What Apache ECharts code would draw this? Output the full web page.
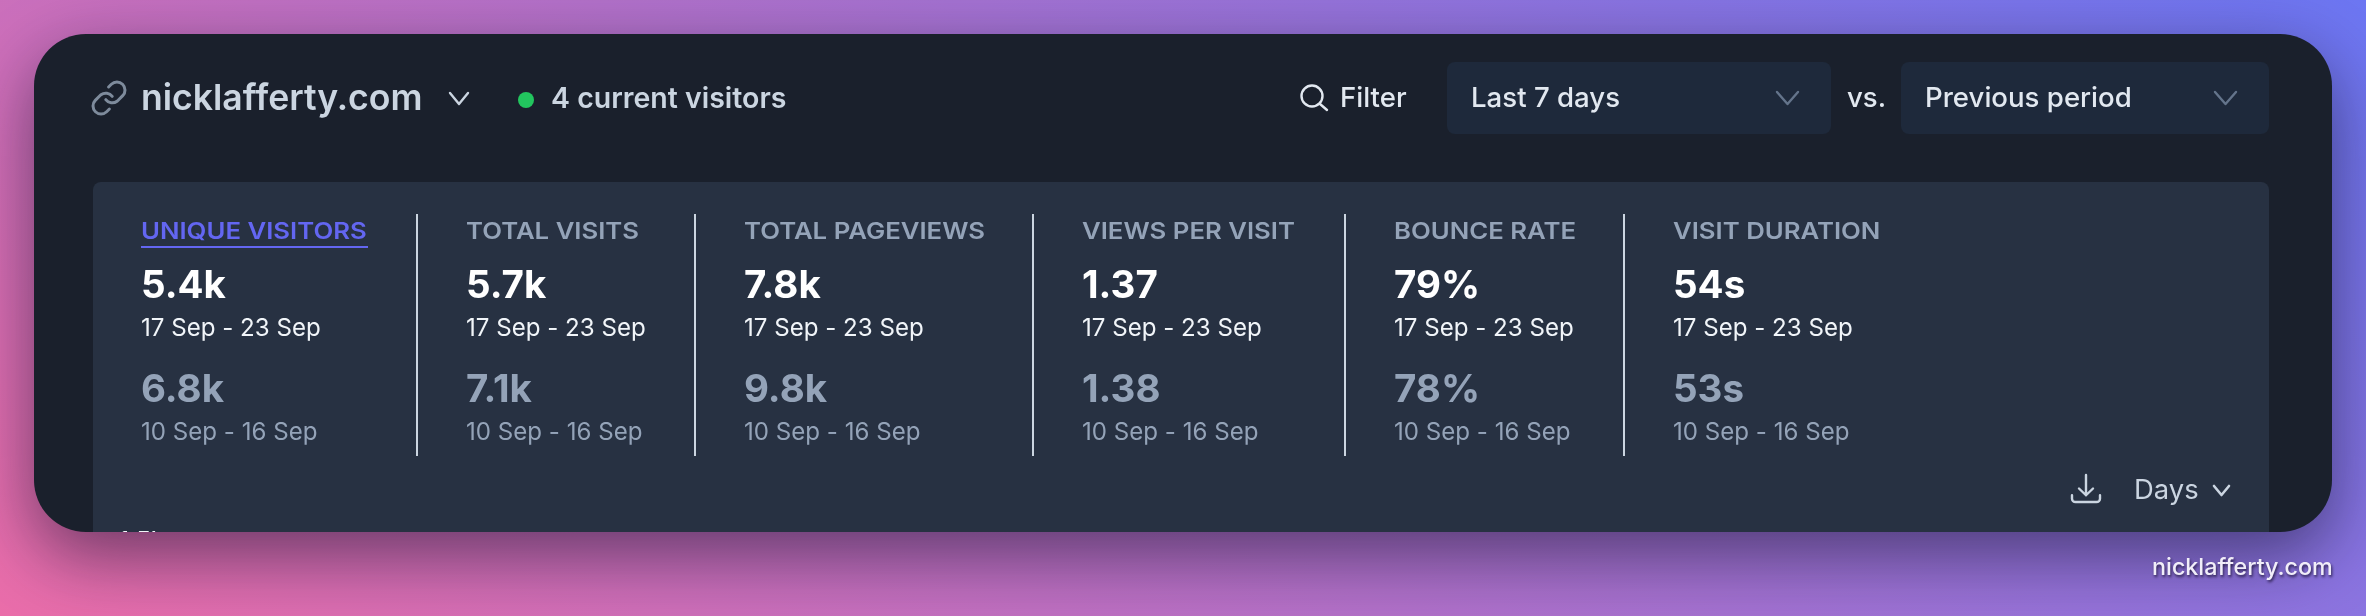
<!DOCTYPE html>
<html>
<head>
<meta charset="utf-8">
<title>nicklafferty.com</title>
<style>
  html, body { margin: 0; padding: 0; background: #8b6acb; }
  #chart { width: 2366px; height: 616px; }
</style>
<script src="https://cdn.jsdelivr.net/npm/echarts@6/dist/echarts.min.js"></script>
</head>
<body>
<div id="chart"></div>
<script>
var metricNames = ['UNIQUE VISITORS', 'TOTAL VISITS', 'TOTAL PAGEVIEWS', 'VIEWS PER VISIT', 'BOUNCE RATE', 'VISIT DURATION'];
var currentValues = ['5.4k', '5.7k', '7.8k', '1.37', '79%', '54s'];
var previousValues = ['6.8k', '7.1k', '9.8k', '1.38', '78%', '53s'];
var currentRange = '17 Sep - 23 Sep';
var previousRange = '10 Sep - 16 Sep';
var siteName = 'nicklafferty.com';
var visitorsLabel = '4 current visitors';
var periodLabel = 'Last 7 days';
var compareLabel = 'Previous period';
var topTickLabel = '1.5k';

var columnX = [141, 466, 744, 1082, 1394, 1673];
var dividerX = [417, 695, 1033, 1345, 1624];
var font = 'Inter, sans-serif';

// y is the baseline, text is placed from its top
function label(text, x, y, size, weight, color, extra) {
  var style = { text: text, x: 0, y: 0, fontFamily: font, fontSize: size, fontWeight: weight, fill: color, verticalAlign: 'top', align: 'left' };
  for (var k in extra) style[k] = extra[k];
  return { type: 'text', x: x, y: y - size * 0.83, style: style, silent: true };
}
function chevron(x1, x2, y1, y2, color, width) {
  return { type: 'polyline', shape: { points: [[x1, y1], [(x1 + x2) / 2, y2], [x2, y1]] },
    style: { stroke: color, lineWidth: width, fill: null, lineCap: 'round', lineJoin: 'round' }, silent: true };
}

var els = [
  // page background and card
  { type: 'rect', shape: { x: 0, y: 0, width: 2366, height: 616 }, silent: true,
    style: { fill: new echarts.graphic.LinearGradient(0, 616, 1195, -914, [
      { offset: 0, color: '#ea6ca9' }, { offset: 1, color: '#6b75f2' }
    ], true) } },
  { type: 'rect', shape: { x: 34, y: 34, width: 2298, height: 498, r: 52 }, silent: true,
    style: { fill: '#1a202c', shadowBlur: 70, shadowOffsetY: 24, shadowColor: 'rgba(15,15,40,0.55)' } },
  // metrics panel, cut flat by the card bottom
  { type: 'rect', shape: { x: 93, y: 182, width: 2176, height: 350, r: [8, 8, 0, 0] }, silent: true, style: { fill: '#273142' } },

  // header
  label(siteName, 141, 111, 35.6, 600, '#cbd5e1'),
  chevron(450, 468, 93, 104, '#cbd5e1', 2.4),
  { type: 'circle', shape: { cx: 526, cy: 100, r: 8 }, silent: true, style: { fill: '#22c55e' } },
  label(visitorsLabel, 551, 109, 28.5, 600, '#cbd5e1'),

  // filter and selects
  { type: 'circle', shape: { cx: 1312, cy: 96, r: 10.5 }, silent: true, style: { stroke: '#e2e8f0', lineWidth: 2.4, fill: null } },
  { type: 'line', shape: { x1: 1320, y1: 104, x2: 1327, y2: 110 }, silent: true, style: { stroke: '#e2e8f0', lineWidth: 2.4, lineCap: 'round' } },
  label('Filter', 1340, 108, 27.6, 500, '#e2e8f0'),
  { type: 'rect', shape: { x: 1447, y: 62, width: 384, height: 72, r: 8 }, silent: true, style: { fill: '#1e293b' } },
  label(periodLabel, 1471, 108, 27.6, 500, '#e2e8f0'),
  chevron(1777, 1798, 92, 104, '#64748b', 2.4),
  label('vs.', 1847, 108, 27.6, 500, '#e2e8f0'),
  { type: 'rect', shape: { x: 1901, y: 62, width: 368, height: 72, r: 8 }, silent: true, style: { fill: '#1e293b' } },
  label(compareLabel, 1925, 108, 27.6, 500, '#e2e8f0'),
  chevron(2215, 2236, 92, 104, '#64748b', 2.4),

  // bottom right controls
  label('Days', 2134, 500, 27.4, 400, '#cbd5e1'),
  chevron(2214, 2229, 486, 495, '#cbd5e1', 2.6),
  label(siteName, 2152, 576, 23.3, 500, '#f1eef9', { textShadowColor: 'rgba(30,20,60,0.9)', textShadowBlur: 3, textShadowOffsetX: 1, textShadowOffsetY: 2 })
];

metricNames.forEach(function (name, i) {
  var x = columnX[i];
  var selected = i === 0;
  var head = label(name, x, 239, 23.5, 600, selected ? '#6366f1' : '#94a3b8');
  head.scaleX = 1.095; // headings are tracked wider in the original
  els.push(head);
  els.push(label(currentValues[i], x, 299, 38.5, 700, '#ffffff'));
  els.push(label(currentRange, x, 337, 24.1, 400, '#f1f5f9'));
  els.push(label(previousValues[i], x, 403, 38.5, 700, '#94a3b8'));
  els.push(label(previousRange, x, 441, 24.1, 400, '#94a3b8'));
});
els.push({ type: 'rect', shape: { x: 141, y: 246, width: 227, height: 2 }, silent: true, style: { fill: '#6366f1' } });

dividerX.forEach(function (x) {
  els.push({ type: 'rect', shape: { x: x - 1, y: 214, width: 2, height: 242 }, silent: true, style: { fill: '#cbd5e1' } });
});

// icons need pathData and the cut-off axis label needs a clip, so these go through a custom series
function renderIcons() {
  return {
    type: 'group',
    children: [
      { type: 'path', shape: { pathData: 'M10 13a5 5 0 0 0 7.54.54l3-3a5 5 0 0 0-7.07-7.07l-1.72 1.71 M14 11a5 5 0 0 0-7.54-.54l-3 3a5 5 0 0 0 7.07 7.07l1.71-1.71', x: 93, y: 82, width: 32, height: 32, layout: 'cover' },
        style: { stroke: '#7e8b9c', lineWidth: 3, fill: null, lineCap: 'round' } },
      { type: 'path', shape: { pathData: 'M3 16.5v2.25A2.25 2.25 0 0 0 5.25 21h13.5A2.25 2.25 0 0 0 21 18.75V16.5 M16.5 12 12 16.5 7.5 12 M12 16.5V3', x: 2072, y: 475, width: 28, height: 27, layout: 'cover' },
        style: { stroke: '#cbd5e1', lineWidth: 2.4, fill: null, lineCap: 'round', lineJoin: 'round' } },
      { type: 'group',
        clipPath: { type: 'rect', shape: { x: 93, y: 500, width: 200, height: 32 } },
        children: [
          { type: 'text', style: { text: topTickLabel, x: 119, y: 529.5, fontFamily: font, fontSize: 24, fontWeight: 500, fill: '#f1f5f9', verticalAlign: 'top' } }
        ] }
    ]
  };
}

var chart = echarts.init(document.getElementById('chart'), null, { renderer: 'canvas', width: 2366, height: 616 });
chart.setOption({
  animation: false,
  graphic: { elements: els },
  series: [{ type: 'custom', coordinateSystem: 'none', silent: true, data: [0], renderItem: renderIcons }]
});
</script>
</body>
</html>
